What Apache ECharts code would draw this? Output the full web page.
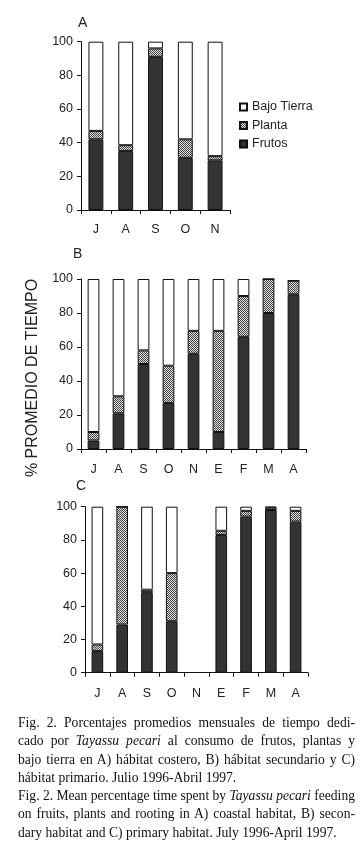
<!DOCTYPE html>
<html>
<head>
<meta charset="utf-8">
<script src="https://cdn.jsdelivr.net/npm/echarts@6/dist/echarts.min.js"></script>
<style>
  html, body { margin: 0; padding: 0; background: #fff; }
  #wrap { position: relative; width: 361px; height: 850px; }
  #chart { position: absolute; left: 0; top: 0; width: 361px; height: 850px; }
  #caption { position: absolute; left: 18px; top: 714px; width: 337px;
    font-family: 'Liberation Serif', 'DejaVu Serif', serif; font-size: 13.6px; color: #111; }
  #caption .l { height: 18.3px; line-height: 18.3px; white-space: nowrap; overflow: visible; }
  #caption .j { text-align: justify; text-align-last: justify; white-space: normal; word-spacing: -2px; }
</style>
</head>
<body>
<div id="wrap">
  <div id="chart"></div>
  <div id="caption">
    <div class="l j">Fig. 2. Porcentajes promedios mensuales de tiempo dedi-</div>
    <div class="l j">cado por <i>Tayassu pecari</i> al consumo de frutos, plantas y</div>
    <div class="l j">bajo tierra en A) hábitat costero, B) hábitat secundario y C)</div>
    <div class="l">hábitat primario. Julio 1996-Abril 1997.</div>
    <div class="l j">Fig. 2. Mean percentage time spent by <i>Tayassu pecari</i> feeding</div>
    <div class="l j">on fruits, plants and rooting in A) coastal habitat, B) secon-</div>
    <div class="l">dary habitat and C) primary habitat. July 1996-April 1997.</div>
  </div>
</div>
<script>
// ---- data (percent of time) ----
const monthsA = ['J', 'A', 'S', 'O', 'N'];
const monthsBC = ['J', 'A', 'S', 'O', 'N', 'E', 'F', 'M', 'A'];

const frutosA = [42, 35, 91, 31, 29.5];
const plantaA = [5, 3.5, 5, 11, 2.5];
const bajoA   = [53, 61.5, 4, 58, 68];

const frutosB = [5, 21, 50, 27, 56, 10, 66, 80, 91];
const plantaB = [5, 10, 8, 22, 13.5, 59.5, 24, 20, 8];
const bajoB   = [90, 69, 42, 51, 30.5, 30.5, 10, 0, 0];

const frutosC = [13, 29, 48.5, 31, null, 83, 94, 98, 91];
const plantaC = [4, 71, 1.5, 29, null, 2.5, 3.5, 1.5, 6.5];
const bajoC   = [83, 0, 50, 40, null, 14.5, 2.5, 0.5, 2.5];

const seriesNames = ['Frutos', 'Planta', 'Bajo Tierra'];
const yTitle = '% PROMEDIO DE TIEMPO';

// ---- styles ----
const FONT = "'Liberation Sans', Arial, sans-serif";
const pc = document.createElement('canvas');
pc.width = 2; pc.height = 2;
const g = pc.getContext('2d');
g.fillStyle = '#e0e0e0'; g.fillRect(0, 0, 2, 2);
g.fillStyle = '#444444'; g.fillRect(0, 0, 1, 1); g.fillRect(1, 1, 1, 1);
const plantaColor = { image: pc, repeat: 'repeat' };
const colors = ['#333333', plantaColor, '#ffffff'];

const grids = [
  { left: 81, top: 41.7, width: 149, height: 168.3 },
  { left: 81, top: 279, width: 225, height: 170 },
  { left: 85, top: 506.7, width: 223, height: 166 }
];
const cats = [monthsA, monthsBC, monthsBC];
const dataSets = [
  [frutosA, plantaA, bajoA],
  [frutosB, plantaB, bajoB],
  [frutosC, plantaC, bajoC]
];
const barW = ['50%', '47%', '47%'];
const labelMargin = [13, 14, 14];

const xAxes = [], yAxes = [], series = [];
grids.forEach((gr, i) => {
  xAxes.push({
    type: 'category', gridIndex: i, data: cats[i],
    axisLine: { lineStyle: { color: '#111', width: 1 } },
    axisTick: { show: true, length: 4, interval: 0, lineStyle: { color: '#111' } },
    axisLabel: { fontSize: 12.5, color: '#222', fontFamily: FONT, margin: labelMargin[i], interval: 0 },
    splitLine: { show: false }
  });
  yAxes.push({
    type: 'value', gridIndex: i, min: 0, max: 100, interval: 20,
    axisLine: { show: true, lineStyle: { color: '#111', width: 1 } },
    axisTick: { show: true, length: 4, lineStyle: { color: '#111' } },
    axisLabel: { fontSize: 12.5, color: '#222', fontFamily: FONT, margin: 8 },
    splitLine: { show: false }
  });
  dataSets[i].forEach((arr, k) => {
    series.push({
      type: 'bar', name: seriesNames[k], xAxisIndex: i, yAxisIndex: i,
      stack: 'panel' + i, barWidth: barW[i], data: arr,
      itemStyle: { color: colors[k], borderColor: '#111', borderWidth: 1 },
      emphasis: { disabled: true }, animation: false
    });
  });
});

const chart = echarts.init(document.getElementById('chart'), null, { renderer: 'canvas' });
chart.setOption({
  backgroundColor: '#fff',
  animation: false,
  grid: grids,
  xAxis: xAxes,
  yAxis: yAxes,
  series: series,
  legend: {
    data: ['Bajo Tierra', 'Planta', 'Frutos'],
    orient: 'vertical', left: 234, top: 95,
    icon: 'rect', itemWidth: 7, itemHeight: 7, itemGap: 4.5,
    textStyle: { fontSize: 12.5, color: '#222', fontFamily: FONT, lineHeight: 14 },
    selectedMode: false
  },
  graphic: [
    { type: 'text', x: 78, y: 16, style: { text: 'A', font: '14px ' + FONT, fill: '#222' } },
    { type: 'text', x: 73, y: 247, style: { text: 'B', font: '14px ' + FONT, fill: '#222' } },
    { type: 'text', x: 76, y: 479, style: { text: 'C', font: '14px ' + FONT, fill: '#222' } },
    { type: 'text', x: 33, y: 378, rotation: Math.PI / 2,
      style: { text: yTitle, font: '16px ' + FONT, fill: '#222', align: 'center', verticalAlign: 'middle' } }
  ]
});
</script>
</body>
</html>
